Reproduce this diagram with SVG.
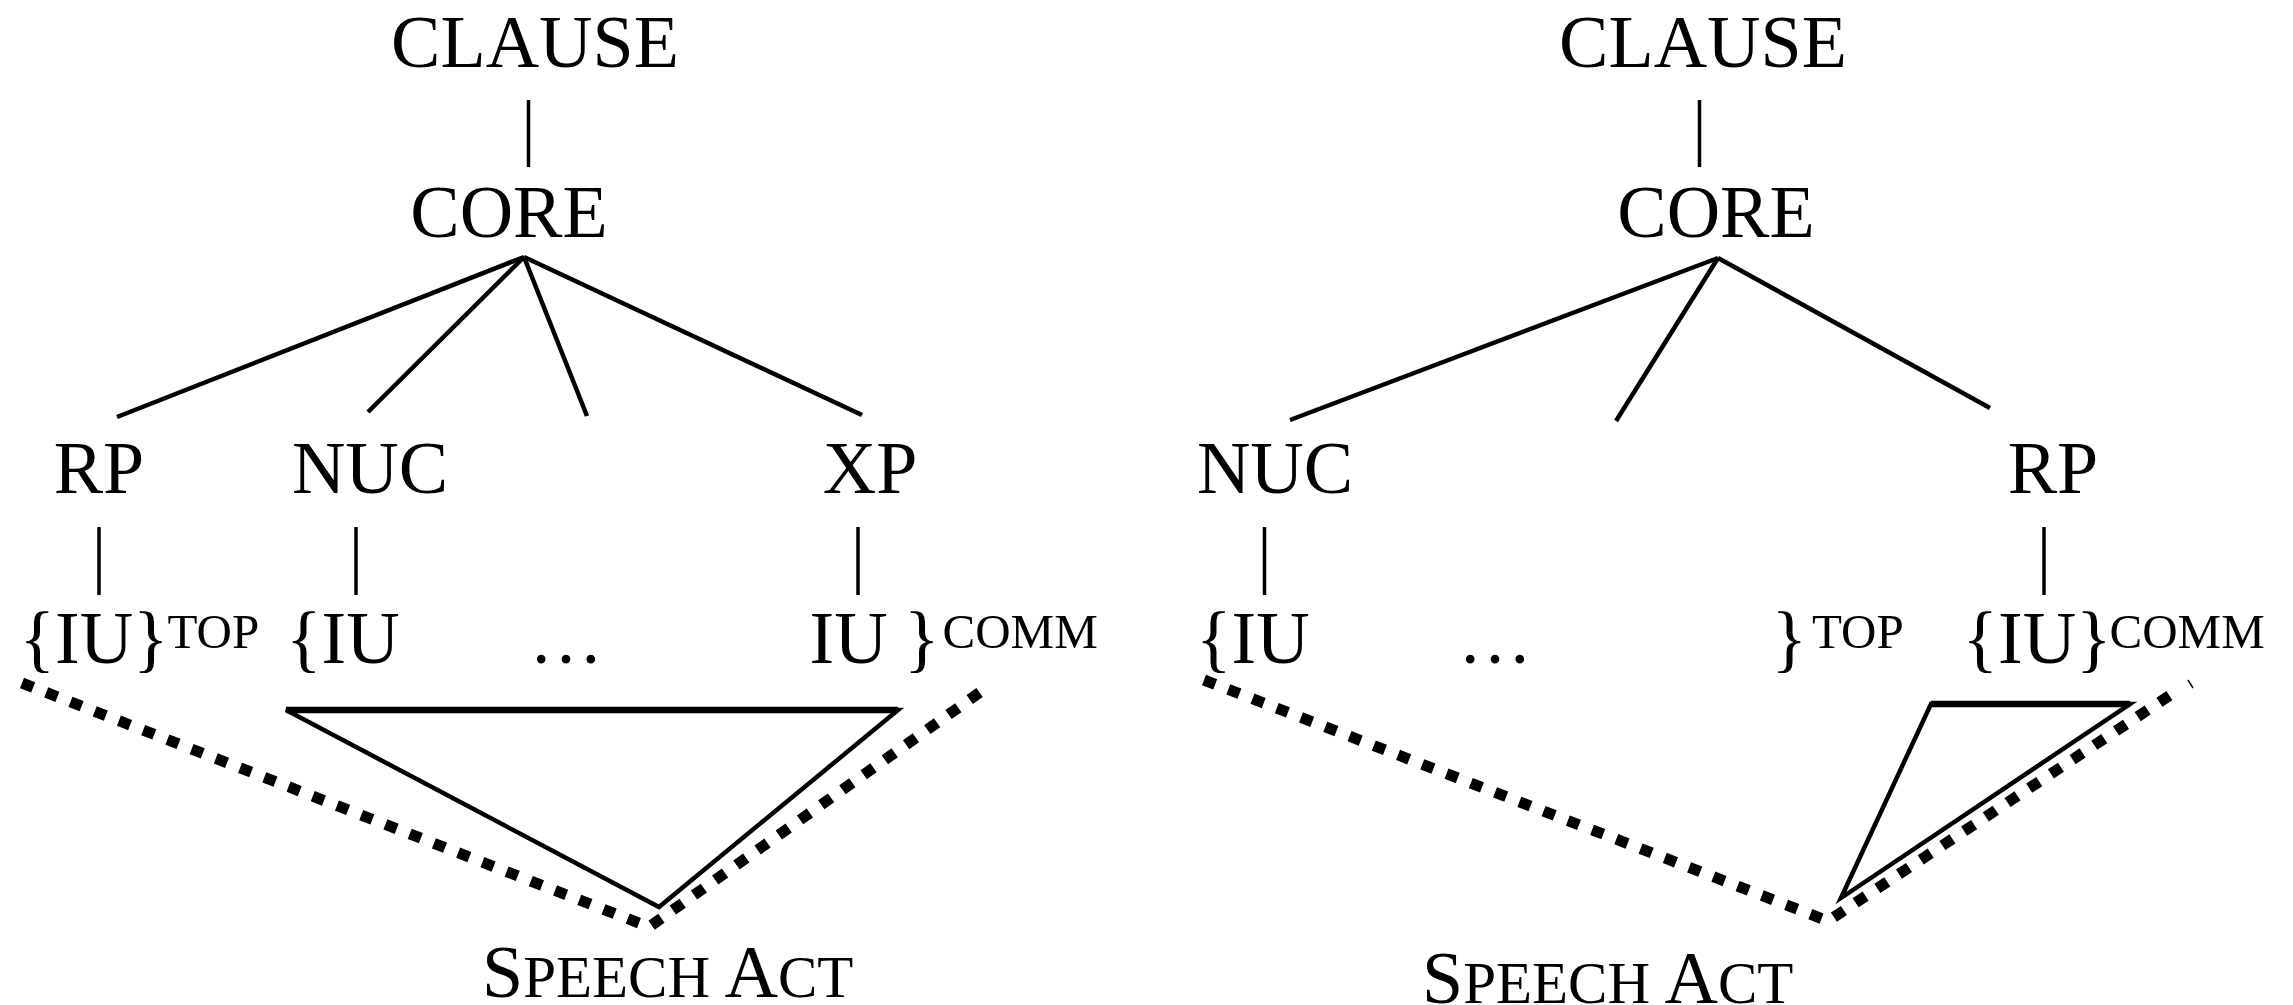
<svg xmlns="http://www.w3.org/2000/svg" width="2293" height="1005" viewBox="0 0 2293 1005">
  <style>
    text { font-family: "Liberation Serif", "Times New Roman", serif; fill: #000; }
    .lbl { font-size: 74px; text-anchor: middle; }
    .iu { font-size: 74px; }
    .sup { font-size: 49px; }
    .sc { font-size: 59px; }
    .stem { stroke: #000; stroke-width: 3.5; fill: none; }
    .branch { stroke: #000; stroke-width: 4.5; fill: none; stroke-linecap: butt; }
    .tri { stroke: #000; stroke-width: 4.5; fill: none; stroke-linejoin: miter; }
    .bar { stroke: #000; stroke-width: 6.5; fill: none; }
    .dots { stroke: #000; stroke-width: 11; fill: none; stroke-dasharray: 12 14; }
    .tick { stroke: #000; stroke-width: 1.5; fill: none; }
  </style>

  <!-- connectors: tree edges, dotted speech-act spans, triangles -->
  <g id="connectors">
    <!-- left tree -->
    <line class="stem" x1="528.5" y1="100" x2="528.5" y2="167"/>
    <line class="branch" x1="524" y1="257" x2="117" y2="417"/>
    <line class="branch" x1="524" y1="257" x2="368" y2="412"/>
    <line class="branch" x1="524" y1="257" x2="587" y2="416"/>
    <line class="branch" x1="524" y1="257" x2="862" y2="415"/>
    <line class="stem" x1="99" y1="527" x2="99" y2="595"/>
    <line class="stem" x1="356" y1="527" x2="356" y2="595"/>
    <line class="stem" x1="858" y1="527" x2="858" y2="595"/>
    <polyline class="dots" points="22,683 649,927 986,688"/>
    <polygon class="tri" points="286,710 898,710 659,907"/>
    <line class="bar" x1="286" y1="710" x2="898" y2="710"/>

    <!-- right tree -->
    <line class="stem" x1="1699.5" y1="100" x2="1699.5" y2="167"/>
    <line class="branch" x1="1718" y1="258" x2="1290" y2="420"/>
    <line class="branch" x1="1718" y1="258" x2="1616" y2="421"/>
    <line class="branch" x1="1718" y1="258" x2="1990" y2="408"/>
    <line class="stem" x1="1264.5" y1="527" x2="1264.5" y2="595"/>
    <line class="stem" x1="2044" y1="527" x2="2044" y2="595"/>
    <polyline class="dots" points="1204,680 1828,921 2181,688"/>
    <line class="tick" x1="2188" y1="680" x2="2193" y2="688"/>
    <polygon class="tri" points="1931,704 2130,704 1841,898"/>
    <line class="bar" x1="1931" y1="704" x2="2130" y2="704"/>
  </g>

  <!-- left tree nodes -->
  <g id="clause-left"><text class="lbl" x="535" y="67">CLAUSE</text></g>
  <g id="core-left"><text class="lbl" x="509" y="237">CORE</text></g>
  <g id="rp-left"><text class="lbl" x="99" y="493">RP</text></g>
  <g id="nuc-left"><text class="lbl" x="370" y="493">NUC</text></g>
  <g id="xp-left"><text class="lbl" x="870" y="493">XP</text></g>
  <g id="iu-top-left">
    <text class="iu" x="19.5" y="663">{IU}</text>
    <text class="sup" x="167.5" y="648">TOP</text>
  </g>
  <g id="iu-comm-left">
    <text class="iu" x="286" y="663">{IU</text>
    <text class="iu" x="566" y="663" text-anchor="middle">…</text>
    <text class="iu" x="809.5" y="663">IU</text>
    <text class="iu" x="904" y="663">}</text>
    <text class="sup" x="942.5" y="648">COMM</text>
  </g>
  <g id="speech-act-left">
    <text x="482" y="997"><tspan class="iu">S</tspan><tspan class="sc">PEECH</tspan><tspan class="iu"> A</tspan><tspan class="sc">CT</tspan></text>
  </g>

  <!-- right tree nodes -->
  <g id="clause-right"><text class="lbl" x="1703" y="67">CLAUSE</text></g>
  <g id="core-right"><text class="lbl" x="1716" y="237">CORE</text></g>
  <g id="nuc-right"><text class="lbl" x="1275" y="493">NUC</text></g>
  <g id="rp-right"><text class="lbl" x="2053" y="493">RP</text></g>
  <g id="iu-top-right">
    <text class="iu" x="1196" y="663">{IU</text>
    <text class="iu" x="1495" y="663" text-anchor="middle">…</text>
    <text class="iu" x="1771.5" y="663">}</text>
    <text class="sup" x="1812" y="648">TOP</text>
  </g>
  <g id="iu-comm-right">
    <text class="iu" x="1962.5" y="663">{IU}</text>
    <text class="sup" x="2109.5" y="648">COMM</text>
  </g>
  <g id="speech-act-right">
    <text x="1422" y="1003"><tspan class="iu">S</tspan><tspan class="sc">PEECH</tspan><tspan class="iu"> A</tspan><tspan class="sc">CT</tspan></text>
  </g>
</svg>
